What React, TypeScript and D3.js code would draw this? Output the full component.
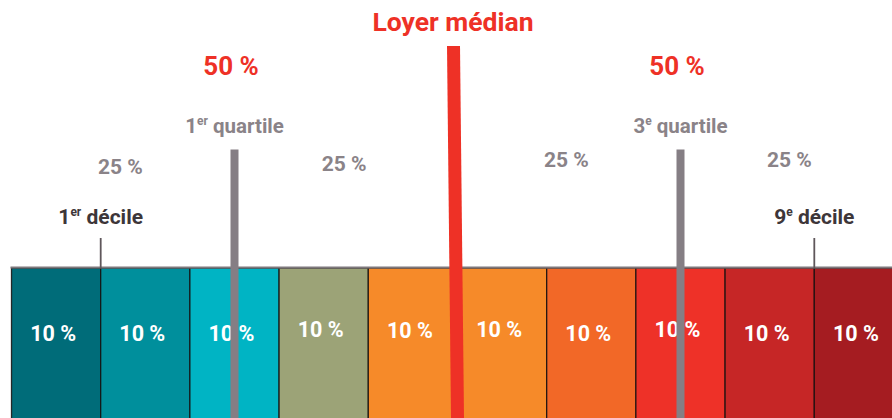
import React from "react";
import * as d3 from "d3";

const W = 892;
const H = 418;

const cellColors = [
  "#006c79", "#008f9c", "#00b4c4", "#9ca377", "#f68a29",
  "#f68a29", "#f26827", "#ee3128", "#c62626", "#a51c21",
];
const cellLabels = ["10 %", "10 %", "10 %", "10 %", "10 %", "10 %", "10 %", "10 %", "10 %", "10 %"];
const cellLabelDy = [0, 0, 0, -4, -3, -4, 0, -4, 0, 0];

const quartiles = [25, 75];
const quartileNames = [["1", "er"], ["3", "e"]];
const deciles = [10, 90];
const decileNames = [["1", "er"], ["9", "e"]];
const median = 50;
const medianTitle = "Loyer médian";
const halfShares = [25, 75];
const halfLabels = ["50 %", "50 %"];
const quarterPos = [12.2, 37.3, 62.2, 87.2];
const quarterLabels = ["25 %", "25 %", "25 %", "25 %"];
const quarterY = [174, 171, 167, 167];

const RED = "#ee3126";
const GRAY = "#8a8388";
const LINEGRAY = "#857e84";
const DARK = "#3d3639";
const FONT = "Roboto, 'Noto Sans', sans-serif";

export default function App() {
  const x = d3.scaleLinear().domain([0, 100]).range([11.5, 903.5]);
  const barTop = 268;
  const edges = d3.range(0, 100, 10);

  return (
    <svg
      width={W}
      height={H}
      style={{ position: "absolute", left: 0, top: 0, background: "#fff" }}
      fontFamily={FONT}
      fontWeight={700}
    >
      {/* cells */}
      {edges.map((e, i) => (
        <rect
          key={i}
          x={x(e)}
          y={barTop}
          width={x(e + 10) - x(e)}
          height={H - barTop + 10}
          fill={cellColors[i]}
          stroke="rgba(20,15,15,0.85)"
          strokeWidth={1.3}
        />
      ))}
      <line x1={x(0) - 1} x2={W} y1={barTop - 0.5} y2={barTop - 0.5} stroke="#7e787c" strokeWidth={2} />
      {edges.map((e, i) => (
        <text
          key={"l" + i}
          x={x(e + 5) - 3}
          y={341 + cellLabelDy[i]}
          textAnchor="middle"
          fill="#fff"
          fontSize={21.5}
        >
          {cellLabels[i]}
        </text>
      ))}

      {/* decile ticks */}
      {deciles.map((d, i) => (
        <g key={"d" + i}>
          <line x1={x(d)} x2={x(d)} y1={238} y2={barTop} stroke="#5f575b" strokeWidth={1.8} />
          <text x={x(d)} y={224} textAnchor="middle" fill={DARK} fontSize={21}>
            {decileNames[i][0]}
            <tspan fontSize={12} dy={-8}>{decileNames[i][1]}</tspan>
            <tspan dy={8}>{" décile"}</tspan>
          </text>
        </g>
      ))}

      {/* quarter labels */}
      {quarterPos.map((p, i) => (
        <text key={"q" + i} x={x(p)} y={quarterY[i]} textAnchor="middle" fill={GRAY} fontSize={21}>
          {quarterLabels[i]}
        </text>
      ))}

      {/* quartile lines */}
      {quartiles.map((q, i) => (
        <g key={"Q" + i}>
          <rect x={x(q) - 4} y={149.5} width={8} height={H - 149} fill={LINEGRAY} />
          <text x={x(q)} y={133} textAnchor="middle" fill={GRAY} fontSize={20.5}>
            {quartileNames[i][0]}
            <tspan fontSize={12} dy={-8}>{quartileNames[i][1]}</tspan>
            <tspan dy={8}>{" quartile"}</tspan>
          </text>
        </g>
      ))}

      {/* half shares */}
      {halfShares.map((h, i) => (
        <text key={"h" + i} x={x(h) - 3.5} y={75} textAnchor="middle" fill={RED} fontSize={26}>
          {halfLabels[i]}
        </text>
      ))}

      {/* median */}
      <polygon
        points={[
          [x(median) - 10.5, 46],
          [x(median) + 2.5, 46],
          [x(median) + 6.5, H],
          [x(median) - 6.5, H],
        ]
          .map((p) => p.join(","))
          .join(" ")}
        fill={RED}
      />
      <text x={x(median) - 4.5} y={31} textAnchor="middle" fill={RED} fontSize={26.5}>
        {medianTitle}
      </text>
    </svg>
  );
}
